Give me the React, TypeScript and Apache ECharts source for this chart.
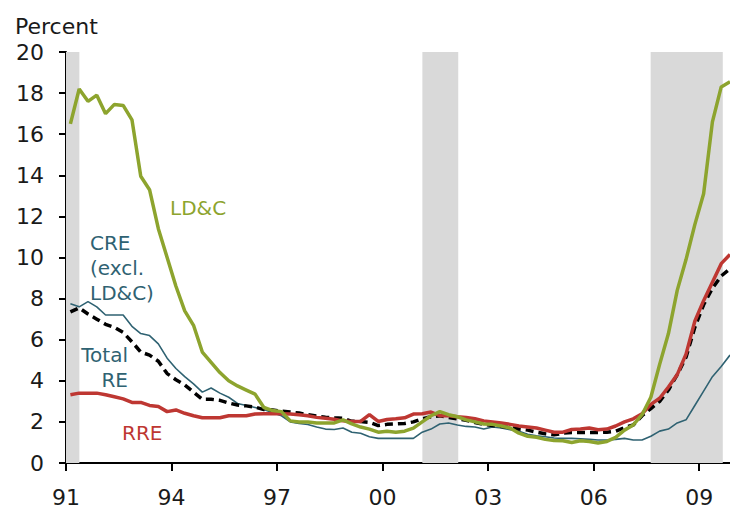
import React, { useEffect, useRef } from "react";
import * as echarts from "echarts";

const START_YEAR = 1991;
const END_YEAR = 2009.875;

// Quarterly series, 1991Q1 .. 2009Q4 (percent)
const ldc = [
  16.5, 18.2, 17.6, 17.9, 17.0, 17.45, 17.4, 16.7, 13.95, 13.3,
  11.4, 10.0, 8.6, 7.4, 6.7, 5.4, 4.9, 4.4, 4.0, 3.75,
  3.55, 3.35, 2.7, 2.55, 2.5, 2.05, 2.0, 2.0, 1.95, 1.95,
  1.95, 2.1, 1.9, 1.75, 1.65, 1.5, 1.55, 1.5, 1.55, 1.7,
  2.0, 2.3, 2.5, 2.35, 2.25, 2.1, 2.0, 1.9, 1.88, 1.8,
  1.7, 1.45, 1.3, 1.25, 1.15, 1.1, 1.08, 1.0, 1.08, 1.05,
  0.97, 1.05, 1.25, 1.6, 1.85, 2.35, 3.2, 4.8, 6.3, 8.4,
  9.9, 11.6, 13.1, 16.6, 18.3, 18.55,
];
const cre = [
  7.75, 7.6, 7.85, 7.6, 7.2, 7.2, 7.2, 6.65, 6.3, 6.2,
  5.8, 5.1, 4.6, 4.2, 3.85, 3.45, 3.65, 3.4, 3.2, 2.9,
  2.8, 2.7, 2.6, 2.45, 2.3, 2.0, 1.92, 1.87, 1.75, 1.65,
  1.63, 1.7, 1.5, 1.45, 1.28, 1.2, 1.2, 1.2, 1.2, 1.2,
  1.5, 1.65, 1.9, 1.95, 1.85, 1.78, 1.75, 1.65, 1.75, 1.7,
  1.62, 1.55, 1.4, 1.32, 1.28, 1.22, 1.2, 1.2, 1.18, 1.15,
  1.12, 1.12, 1.15, 1.2, 1.12, 1.12, 1.3, 1.55, 1.65, 1.95,
  2.1, 2.8, 3.5, 4.2, 4.7, 5.25,
];
const totalRE = [
  7.35, 7.55, 7.25, 7.0, 6.75, 6.6, 6.35, 5.9, 5.4, 5.25,
  4.95, 4.35, 4.05, 3.8, 3.45, 3.1, 3.1, 3.05, 2.92, 2.82,
  2.78, 2.72, 2.6, 2.58, 2.52, 2.48, 2.43, 2.35, 2.28, 2.23,
  2.2, 2.18, 2.03, 2.02, 1.98, 1.82, 1.88, 1.9, 1.92, 2.0,
  2.15, 2.25, 2.3, 2.22, 2.15, 2.08, 1.97, 1.88, 1.82, 1.78,
  1.72, 1.65, 1.6, 1.5, 1.42, 1.37, 1.45, 1.48, 1.48, 1.48,
  1.48, 1.5, 1.55, 1.72, 1.85, 2.3, 2.65, 3.0, 3.55, 4.3,
  5.15, 6.6, 7.7, 8.5, 9.1, 9.45,
];
const rre = [
  3.32, 3.4, 3.4, 3.4, 3.32, 3.22, 3.12, 2.95, 2.95, 2.8,
  2.75, 2.5, 2.58, 2.42, 2.3, 2.2, 2.2, 2.2, 2.3, 2.3,
  2.3, 2.38, 2.4, 2.4, 2.4, 2.38, 2.35, 2.3, 2.22, 2.18,
  2.13, 2.05, 2.02, 2.02, 2.35, 2.02, 2.12, 2.15, 2.2, 2.38,
  2.4, 2.48, 2.3, 2.3, 2.25, 2.22, 2.15, 2.05, 2.0, 1.95,
  1.88, 1.8, 1.75, 1.7, 1.6, 1.5, 1.5, 1.63, 1.65, 1.7,
  1.62, 1.65, 1.8, 2.0, 2.15, 2.4, 2.85, 3.15, 3.7, 4.3,
  5.3, 6.9, 7.9, 8.8, 9.7, 10.15,
];

// Recession periods (fractional years)
const recessions: [number, number][] = [
  [1991.0, 1991.38],
  [2001.13, 2002.15],
  [2007.62, 2009.67],
];

const yTicks = [0, 20, 2]; // min, max, interval
const xTickStep = 3;

const GREEN = "#8DA42E";
const BLUE = "#2F6272";
const RED = "#BE3732";
const FONT = "DejaVu Sans";

// x position of a quarter (mid-quarter), relative to START_YEAR
const qx = (i: number) => 0.125 + 0.25 * i;
const toPairs = (arr: number[]) => arr.map((v, i) => [qx(i), v]);

export default function App() {
  const ref = useRef<HTMLDivElement>(null);
  useEffect(() => {
    if (!ref.current) return;
    const chart = echarts.init(ref.current, undefined, { renderer: "svg" });
    const lineBase = { type: "line", showSymbol: false, symbol: "none", smooth: false };
    const ann = (text: string, x: number, y: number, fill: string, align = "left") => ({
      type: "text",
      x,
      y,
      style: { text, fill, fontFamily: FONT, fontSize: 20, textAlign: align, textVerticalAlign: "middle" },
    });
    chart.setOption({
      animation: false,
      grid: { left: 66, right: 0, top: 52, bottom: 47, containLabel: false, outerBoundsMode: "none" },
      xAxis: {
        type: "value",
        min: 0,
        max: END_YEAR - START_YEAR,
        interval: xTickStep,
        axisLine: { show: true, onZero: false, lineStyle: { color: "#000", width: 2 } },
        axisTick: { show: true, length: 8, inside: false, lineStyle: { color: "#000", width: 2 } },
        splitLine: { show: false },
        axisLabel: {
          margin: 23,
          color: "#1a1a1a",
          fontFamily: FONT,
          fontSize: 22,
          showMaxLabel: false,
          formatter: (v: number) => {
            if (Math.abs(v / xTickStep - Math.round(v / xTickStep)) > 1e-6) return "";
            return String((START_YEAR + Math.round(v)) % 100).padStart(2, "0");
          },
        },
      },
      yAxis: {
        type: "value",
        min: yTicks[0],
        max: yTicks[1],
        interval: yTicks[2],
        axisLine: { show: true, lineStyle: { color: "#000", width: 2 } },
        axisTick: { show: true, length: 7, inside: false, lineStyle: { color: "#000", width: 2 } },
        splitLine: { show: false },
        axisLabel: { margin: 22, color: "#1a1a1a", fontFamily: FONT, fontSize: 22 },
      },
      series: [
        {
          ...lineBase,
          name: "recessions",
          data: [],
          z: 1,
          markArea: {
            silent: true,
            itemStyle: { color: "#D9D9D9" },
            data: recessions.map(([a, b]) => [
              { xAxis: a - START_YEAR },
              { xAxis: b - START_YEAR },
            ]),
          },
        },
        { ...lineBase, name: "CRE", data: toPairs(cre), z: 2, lineStyle: { color: BLUE, width: 1.6 } },
        {
          ...lineBase,
          name: "Total RE",
          data: toPairs(totalRE),
          z: 3,
          lineStyle: { color: "#000", width: 3.5, type: [8, 5] },
        },
        { ...lineBase, name: "RRE", data: toPairs(rre), z: 4, lineStyle: { color: RED, width: 3.5 } },
        { ...lineBase, name: "LD&C", data: toPairs(ldc), z: 5, lineStyle: { color: GREEN, width: 3.5 } },
      ],
      graphic: [
        { type: "text", x: 15, y: 26, style: { text: "Percent", fill: "#1a1a1a", fontFamily: FONT, fontSize: 22, textVerticalAlign: "middle" } },
        ann("LD&C", 170, 208, GREEN),
        ann("CRE", 90, 242.5, BLUE),
        ann("(excl.", 90, 268, BLUE),
        ann("LD&C)", 90, 292.5, BLUE),
        ann("Total", 128, 355, BLUE, "right"),
        ann("RE", 128, 380, BLUE, "right"),
        ann("RRE", 122, 432.5, RED),
      ],
    });
    return () => chart.dispose();
  }, []);
  return (
    <div
      ref={ref}
      style={{ position: "absolute", left: 0, top: 0, width: 730, height: 510, background: "#fff" }}
    />
  );
}
